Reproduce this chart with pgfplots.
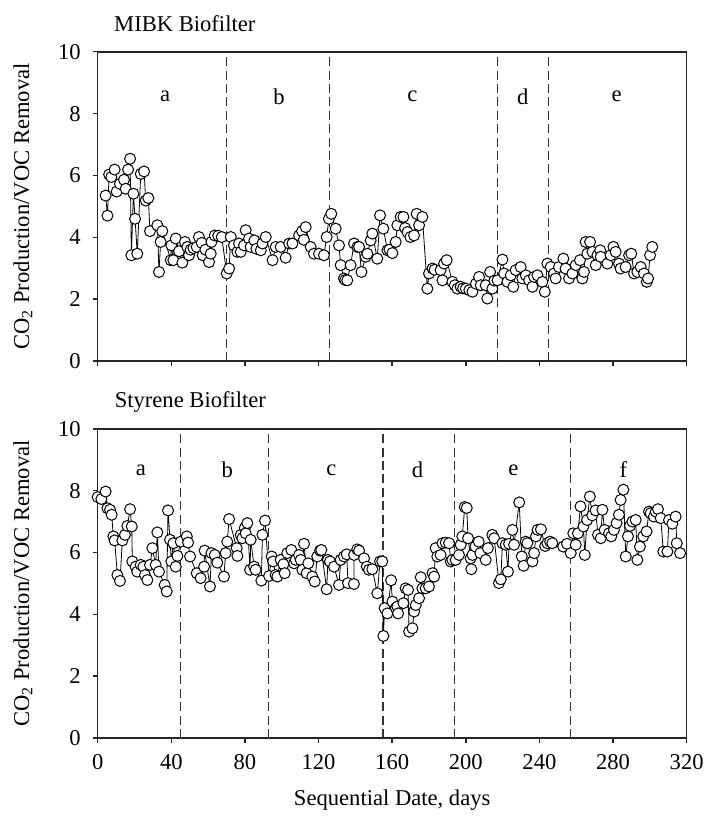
\documentclass[border=0pt]{standalone}
\usepackage{fontspec}
\setmainfont{Liberation Serif}
\usepackage{pgfplots}
\pgfplotsset{compat=1.18}

\newcommand{\lbl}{\fontsize{11.3}{13.5}\selectfont}

\tikzset{seg/.style={font=\lbl, anchor=center}}
\pgfplotsset{
  panel/.style={
    scale only axis, width=294.5pt, height=154.6pt,
    xmin=0, xmax=320, ymin=0, ymax=10,
    xtick={0,40,...,320}, ytick={0,2,...,10},
    tick pos=left, tick align=outside,
    major tick length=2.5pt,
    axis line style={line width=0.8pt, black!85},
    every tick/.style={black!85, line width=0.7pt},
    tick label style={font=\lbl},
    yticklabel style={xshift=-2.5pt},
    xticklabel style={yshift=-2pt},
    /pgf/number format/assume math mode=true,
    ylabel={CO\textsubscript{2} Production/VOC Removal},
    ylabel style={at={(axis description cs:-0.127,0.5)}, anchor=center, font=\lbl},
    clip=false,
  },
  pts/.style={black, line width=0.4pt, mark=*, mark size=2.75pt,
    mark options={fill=white, draw=black, line width=0.5pt, solid}},
  sep/.style={black!80, line width=0.6pt, dash pattern=on 4.5pt off 2.2pt, mark=none, forget plot},
}

\begin{document}
\begin{tikzpicture}
\path[use as bounding box] (-48.85pt,-41pt) rectangle (303.15pt,369pt);

% MIBK
\begin{axis}[panel, at={(0,188.5pt)}, anchor=south west, xticklabels={}]
\addplot[sep] coordinates {(70,0) (70,10)};
\addplot[sep] coordinates {(126,0) (126,10)};
\addplot[sep] coordinates {(217,0) (217,10)};
\addplot[sep] coordinates {(245,0) (245,10)};
\addplot[pts] coordinates {
(4.3,5.35) (5.3,4.70) (6.2,6.03) (7.4,5.95) (9.2,6.19) (10.3,5.48) (12.1,5.73)
(14.3,5.86) (15.2,5.57) (16.5,6.19) (17.6,6.54) (18.3,3.42) (19.4,5.41) (20.3,4.60)
(21.5,3.47) (23.4,6.05) (25.2,6.13) (26.1,5.19) (27.5,5.27) (28.4,4.20) (32.4,4.39)
(33.3,2.88) (34.2,3.85) (35.1,4.20) (39.7,3.26) (40.0,3.74) (41.1,3.26) (42.4,3.96)
(44.2,3.55) (46.0,3.18) (47.4,3.85) (48.7,3.69) (49.6,3.42) (50.5,3.60) (52.0,3.65)
(53.8,3.69) (55.0,4.01) (56.5,3.82) (57.0,3.42) (58.5,3.60) (60.5,3.20) (61.4,3.47)
(61.8,3.85) (63.6,4.06) (65.5,4.05) (67.4,4.01) (70.1,2.83) (71.4,2.99) (72.3,4.01)
(74.0,3.74) (75.9,3.53) (76.8,3.80) (77.7,3.53) (79.5,3.74) (80.4,4.23) (82.2,3.96)
(83.1,3.69) (85.1,3.90) (86.2,3.63) (88.6,3.58) (89.5,3.80) (91.3,4.01) (95.0,3.26)
(96.7,3.69) (99.4,3.69) (102.1,3.34) (104.0,3.80) (105.8,3.80) (109.4,4.06) (111.0,4.20)
(112.0,3.92) (113.0,4.33) (115.7,3.69) (117.5,3.47) (120.2,3.47) (122.9,3.42) (124.4,4.01)
(125.6,4.60) (126.9,4.76) (129.3,4.28) (131.1,3.74) (132.0,3.10) (133.8,2.67) (134.5,2.62)
(135.6,2.61) (137.4,3.10) (139.3,3.80) (141.1,3.69) (142.0,3.69) (143.3,2.88) (145.6,3.37)
(146.5,3.47) (148.3,3.90) (149.2,4.12) (151.9,3.31) (153.4,4.71) (155.2,4.28) (157.4,3.58)
(158.5,3.60) (160.1,3.49) (161.9,3.85) (162.8,4.39) (164.6,4.66) (166.1,4.66) (167.0,4.30)
(168.3,4.17) (169.9,4.01) (171.9,4.06) (173.3,4.76) (174.6,4.39) (176.4,4.66) (179.1,2.34)
(180.0,2.83) (181.9,2.99) (183.0,2.95) (186.3,2.94) (187.3,2.61) (188.2,3.15) (189.6,3.26)
(192.7,2.56) (194.0,2.45) (195.4,2.34) (197.2,2.40) (198.5,2.35) (200.0,2.34) (201.9,2.29)
(203.6,2.24) (205.5,2.50) (207.2,2.72) (208.1,2.45) (210.8,2.45) (211.7,2.02) (213.2,2.88)
(214.4,2.34) (215.5,2.60) (217.2,2.61) (219.9,3.28) (220.8,2.83) (222.6,2.56) (224.4,2.77)
(225.8,2.40) (227.1,2.94) (229.8,3.04) (230.7,2.67) (232.6,2.77) (234.4,2.61) (236.2,2.40)
(237.1,2.72) (238.9,2.77) (241.6,2.56) (242.9,2.24) (244.3,3.15) (246.1,3.04) (247.9,2.83)
(248.8,2.67) (250.6,3.04) (253.0,3.31) (254.2,2.99) (256.1,2.67) (257.9,2.83) (259.7,3.10)
(262.0,3.26) (263.3,2.67) (264.2,2.88) (265.1,3.85) (266.0,3.47) (267.5,3.85) (268.8,3.53)
(270.6,3.10) (271.5,3.42) (273.0,3.58) (273.3,3.37) (276.9,3.15) (278.7,3.42) (280.2,3.69)
(281.4,3.53) (283.2,3.15) (284.1,2.99) (286.8,3.04) (288.7,3.42) (289.9,3.47) (291.4,2.83)
(293.2,2.88) (295.0,3.04) (296.8,2.83) (298.3,2.56) (299.0,2.67) (300.1,3.42) (301.3,3.69)
};
\node[seg] at (axis cs:36.6,8.55) {a};
\node[seg] at (axis cs:98.5,8.55) {b};
\node[seg] at (axis cs:171,8.55) {c};
\node[seg] at (axis cs:231,8.55) {d};
\node[seg] at (axis cs:282,8.55) {e};
\node[anchor=base west, font=\lbl, xshift=4.7pt, yshift=10pt] at (rel axis cs:0,1) {MIBK Biofilter};
\end{axis}

% Styrene
\begin{axis}[panel, at={(0,0)}, anchor=south west,
  xlabel={Sequential Date, days},
  xlabel style={at={(axis description cs:0.5,0)}, anchor=center, yshift=-31pt, font=\lbl}]
\addplot[sep] coordinates {(45,0) (45,10)};
\addplot[sep] coordinates {(93,0) (93,10)};
\addplot[sep] coordinates {(155,0) (155,10)};
\addplot[sep] coordinates {(194,0) (194,10)};
\addplot[sep] coordinates {(257,0) (257,10)};
\addplot[pts] coordinates {
(0.0,7.79) (2.0,7.73) (4.3,7.97) (5.3,7.43) (6.7,7.38) (7.6,7.22) (8.5,6.52) (9.2,6.39)
(10.7,5.27) (12.1,5.08) (13.4,6.39) (14.8,6.57) (16.1,6.86) (17.6,7.40) (18.5,6.84) (18.8,5.71)
(20.6,5.54) (21.5,5.38) (23.4,5.60) (24.8,5.54) (25.7,5.27) (27.0,5.11) (28.4,5.60) (29.7,6.14)
(31.5,5.60) (32.4,6.65) (33.3,5.38) (36.4,4.95) (37.5,4.74) (38.2,7.36) (39.3,6.41) (40.0,5.71)
(41.1,6.30) (42.4,5.54) (43.3,5.89) (45.1,6.35) (48.4,6.52) (49.1,6.32) (50.2,5.87) (53.8,5.33)
(55.9,5.17) (57.8,5.54) (58.1,6.06) (61.0,4.90) (61.8,5.98) (63.6,5.92) (65.0,5.67) (68.6,5.22)
(69.5,5.98) (70.4,6.35) (71.4,7.08) (75.5,6.14) (75.9,5.89) (77.7,6.57) (78.6,6.46) (79.9,6.79)
(80.4,6.62) (81.3,6.95) (82.8,5.44) (83.1,6.41) (85.0,5.54) (85.8,5.44) (88.9,5.09) (89.5,6.57)
(90.9,7.03) (93.1,5.24) (94.5,5.87) (95.3,5.71) (96.7,5.27) (97.6,5.22) (99.4,5.76) (100.9,5.62)
(101.6,5.33) (103.0,5.98) (105.2,6.08) (106.7,5.65) (107.6,5.76) (109.4,5.92) (110.3,5.76) (111.2,5.44)
(112.1,6.28) (113.5,5.33) (114.4,5.65) (116.6,5.22) (117.9,5.06) (119.3,5.87) (120.8,6.06) (121.5,6.08)
(124.4,4.81) (125.1,5.76) (126.2,5.71) (128.4,5.54) (131.1,4.95) (132.0,5.76) (133.8,5.87) (135.3,5.94)
(136.0,5.01) (139.2,4.98) (139.3,5.92) (141.0,6.10) (142.0,6.06) (144.7,5.81) (146.2,5.54) (147.4,5.44)
(149.2,5.46) (151.9,4.68) (153.4,5.71) (154.6,5.71) (155.2,3.30) (155.9,4.20) (157.4,4.03) (159.4,5.10)
(160.1,4.41) (162.0,4.20) (162.8,4.25) (163.2,4.03) (166.1,4.36) (167.3,4.84) (168.6,4.79) (169.2,3.44)
(171.0,3.55) (171.9,4.09) (172.8,4.30) (174.6,4.52) (175.5,5.20) (176.4,4.84) (178.2,4.84) (180.0,4.90)
(181.9,5.33) (182.8,5.22) (183.6,6.14) (184.5,5.87) (186.3,5.92) (187.3,6.30) (189.1,6.32) (190.9,6.30)
(191.8,5.71) (192.7,5.76) (194.5,5.76) (196.3,5.92) (197.2,6.25) (198.1,6.52) (199.4,7.47) (200.5,7.44)
(201.2,6.46) (202.6,5.81) (203.0,5.46) (203.6,5.92) (205.2,6.19) (207.0,6.35) (207.9,5.98) (210.8,5.76)
(212.0,6.14) (214.4,6.57) (215.4,6.46) (218.0,5.01) (219.0,5.13) (219.9,6.30) (221.7,6.25) (222.9,5.38)
(223.5,6.28) (225.3,6.73) (226.2,6.25) (229.0,7.62) (230.4,5.87) (231.4,5.57) (232.5,6.35) (233.4,6.30)
(236.2,5.71) (237.1,5.98) (238.1,6.52) (239.0,6.73) (240.8,6.75) (243.1,6.21) (244.3,6.30) (245.8,6.35)
(247.0,6.30) (252.9,6.19) (255.0,6.28) (257.0,5.98) (258.4,6.62) (259.7,6.25) (260.9,6.62) (262.3,7.49)
(263.9,6.84) (264.6,5.92) (265.9,7.05) (267.4,7.81) (268.7,7.20) (270.5,7.36) (271.8,6.57) (273.3,6.46)
(274.2,7.38) (275.4,6.73) (277.8,6.62) (279.0,6.52) (280.5,6.73) (281.9,6.95) (283.2,7.22) (284.1,7.70)
(285.6,8.03) (286.9,5.87) (288.1,6.52) (289.2,6.86) (290.5,7.00) (292.3,7.05) (293.2,5.76) (294.6,6.19)
(296.4,6.52) (298.2,6.68) (299.5,7.32) (300.4,7.27) (302.2,7.16) (303.2,7.32) (304.4,7.40) (305.9,7.11)
(307.3,6.03) (309.5,6.03) (310.4,7.05) (312.2,6.93) (314.0,7.16) (314.6,6.30) (316.4,5.98)
};
\node[seg] at (axis cs:23.4,8.67) {a};
\node[seg] at (axis cs:70.4,8.67) {b};
\node[seg] at (axis cs:127,8.67) {c};
\node[seg] at (axis cs:173.7,8.67) {d};
\node[seg] at (axis cs:225.8,8.67) {e};
\node[seg] at (axis cs:285.6,8.67) {f};
\node[anchor=base west, font=\lbl, xshift=5pt, yshift=10.5pt] at (rel axis cs:0,1) {Styrene Biofilter};
\end{axis}
\end{tikzpicture}
\end{document}
